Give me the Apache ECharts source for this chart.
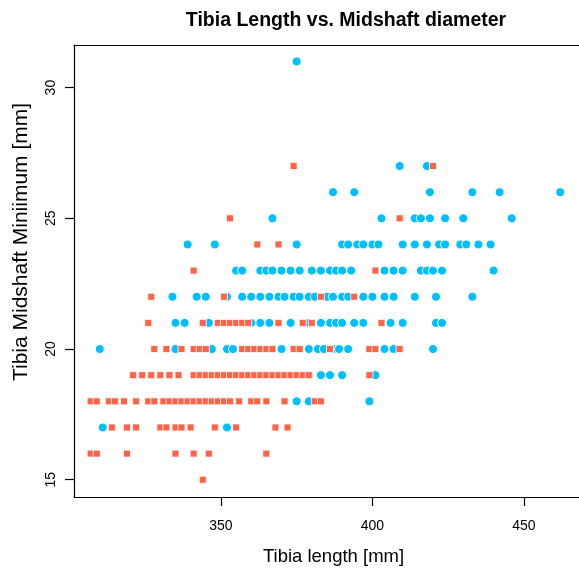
<!DOCTYPE html>
<html>
<head>
<meta charset="utf-8">
<script src="https://cdn.jsdelivr.net/npm/echarts@6/dist/echarts.min.js"></script>
<style>
html,body{margin:0;padding:0;background:#fff;}
#chart{width:579px;height:573px;}
</style>
</head>
<body>
<div id="chart"></div>
<script>
// Minimum midshaft diameter levels (mm), one row per level
const diameterLevels = [31, 27, 26, 25, 24, 23, 22, 21, 20, 19, 18, 17, 16, 15];

// Tibia lengths (mm) of orange-square points at each diameter level
const orangeLengthsByLevel = [
  [],
  [374, 420],
  [],
  [353, 409],
  [362, 369],
  [341, 401],
  [327, 351, 383, 394],
  [326, 344, 349, 351, 353, 355, 357, 359, 369, 377, 380, 403],
  [328, 332, 337, 341, 343, 345, 357, 359, 361, 363, 365, 367, 374, 376, 386, 399, 401, 409],
  [321, 324, 327, 330, 333, 336, 341, 343, 345, 347, 349, 351, 353, 355, 357, 359, 361, 363, 365, 367, 369, 371, 373, 375, 377, 379, 399],
  [307, 309, 313, 315, 318, 322, 326, 328, 331, 333, 335, 337, 339, 341, 343, 345, 347, 349, 351, 353, 356, 360, 362, 365, 371, 381, 383],
  [314, 319, 322, 330, 332, 335, 337, 340, 348, 355, 368, 372],
  [307, 309, 319, 335, 341, 346, 365],
  [344]
];

// Tibia lengths (mm) of blue-circle points at each diameter level
const blueLengthsByLevel = [
  [375],
  [409, 418],
  [387, 394, 419, 433, 442, 462],
  [367, 403, 414, 416, 419, 424, 430, 446],
  [339, 348, 375, 390, 392, 395, 397, 400, 402, 410, 414, 418, 422, 424, 429, 431, 435, 439],
  [355, 357, 363, 365, 367, 370, 373, 376, 380, 383, 386, 388, 390, 393, 404, 407, 410, 416, 418, 420, 423, 440],
  [334, 342, 345, 352, 357, 360, 363, 366, 369, 371, 374, 376, 379, 381, 385, 387, 390, 392, 397, 400, 404, 407, 414, 421, 433],
  [335, 338, 346, 360, 363, 366, 373, 379, 383, 386, 388, 390, 394, 397, 406, 410, 421, 423],
  [310, 335, 347, 352, 354, 370, 379, 382, 384, 387, 389, 392, 404, 407, 420],
  [383, 386, 390, 401],
  [375, 379, 399],
  [311, 352],
  [],
  []
];

const xTicks = [350, 400, 450];
const yTicks = [15, 20, 25, 30];

function toPoints(byLevel) {
  const pts = [];
  byLevel.forEach((lengths, i) => {
    lengths.forEach(len => pts.push([len, diameterLevels[i]]));
  });
  return pts;
}

const chart = echarts.init(document.getElementById('chart'), null, {renderer: 'canvas'});
const fontFamily = '"Liberation Sans", Arial, Helvetica, sans-serif';
const xMin = 301.5, xMax = 468.2;

chart.setOption({
  animation: false,
  backgroundColor: '#ffffff',
  title: {
    text: 'Tibia Length vs. Midshaft diameter',
    left: 341,
    textAlign: 'center',
    top: 6,
    textStyle: {fontFamily: fontFamily, fontWeight: 'bold', fontSize: 19.5, color: '#000'}
  },
  grid: {
    left: 74, right: 0, top: 45, bottom: 76,
    show: false,
    containLabel: false
  },
  xAxis: [
    {
      type: 'value',
      min: xMin, max: xMax,
      position: 'bottom',
      name: 'Tibia length [mm]',
      nameLocation: 'middle',
      nameGap: 50,
      nameTextStyle: {fontFamily: fontFamily, fontSize: 18.5, color: '#000', padding: [0, 0, 0, 14]},
      splitLine: {show: false},
      axisLine: {show: true, onZero: false, lineStyle: {color: '#000', width: 1.2}},
      axisTick: {show: true, customValues: xTicks, length: 9, lineStyle: {color: '#000', width: 1.2}},
      axisLabel: {customValues: xTicks, margin: 22, fontFamily: fontFamily, fontSize: 14, color: '#000'}
    },
    {
      type: 'value',
      min: xMin, max: xMax,
      position: 'top',
      splitLine: {show: false},
      axisLine: {show: true, onZero: false, lineStyle: {color: '#000', width: 1.2}},
      axisTick: {show: false},
      axisLabel: {show: false}
    }
  ],
  yAxis: {
    type: 'value',
    min: 14.34, max: 31.63,
    name: 'Tibia Midshaft Miniimum [mm]',
    nameLocation: 'middle',
    nameGap: 42,
    nameRotate: 90,
    nameTextStyle: {fontFamily: fontFamily, fontSize: 21, color: '#000', padding: [0, 0, 0, 58]},
    splitLine: {show: false},
    axisLine: {show: true, onZero: false, lineStyle: {color: '#000', width: 1.2}},
    axisTick: {show: true, customValues: yTicks, length: 9, lineStyle: {color: '#000', width: 1.2}},
    axisLabel: {customValues: yTicks, rotate: 90, margin: 16, fontFamily: fontFamily, fontSize: 14, color: '#000'}
  },
  series: [
    {
      name: 'Blue',
      type: 'scatter',
      symbol: 'circle',
      symbolSize: 9,
      xAxisIndex: 0,
      itemStyle: {color: '#00BFFF', borderColor: '#ffffff', borderWidth: 1, opacity: 1},
      data: toPoints(blueLengthsByLevel),
      z: 2
    },
    {
      name: 'Orange',
      type: 'scatter',
      symbol: 'rect',
      symbolSize: 7,
      xAxisIndex: 0,
      itemStyle: {color: '#FF6347', borderColor: '#ffffff', borderWidth: 0.8, opacity: 1},
      data: toPoints(orangeLengthsByLevel),
      z: 3
    }
  ]
});
</script>
</body>
</html>
